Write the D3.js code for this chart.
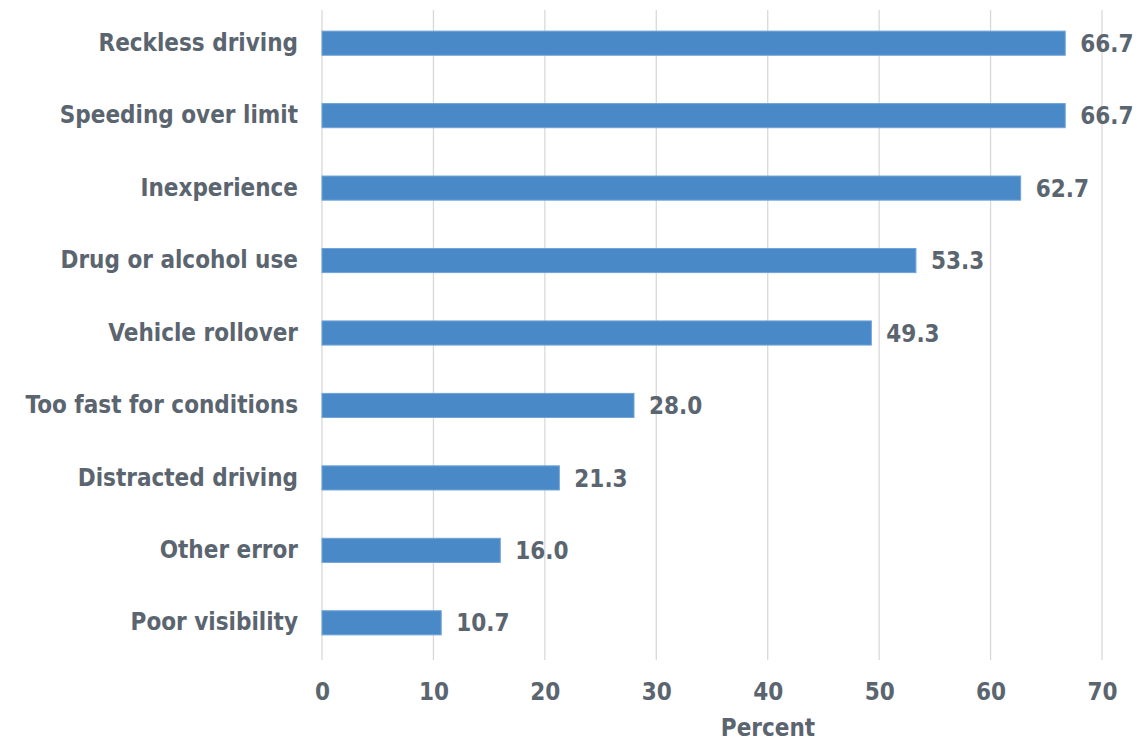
<!DOCTYPE html>
<html><head><meta charset="utf-8">
<script src="https://cdn.jsdelivr.net/npm/d3@7"></script>
<style>
html,body{margin:0;padding:0;background:#fff;}
text{font-family:"DejaVu Sans Condensed","DejaVu Sans",sans-serif;font-weight:bold;fill:#5b6570;}
</style></head>
<body>
<svg id="chart" width="1142" height="742"></svg>
<script>
const categories = ["Reckless driving","Speeding over limit","Inexperience","Drug or alcohol use","Vehicle rollover","Too fast for conditions","Distracted driving","Other error","Poor visibility"];
const values = [66.7,66.7,62.7,53.3,49.3,28.0,21.3,16.0,10.7];
const xTicks = [0,10,20,30,40,50,60,70];
const xTitle = "Percent";

const svg = d3.select("#chart");
const x = d3.scaleLinear().domain([0,70]).range([322,1102]);
const y = d3.scaleBand().domain(categories).range([7,659]).paddingInner(0.667).paddingOuter(0.333);

// gridlines
svg.append("g").selectAll("line").data(xTicks).join("line")
  .attr("x1",d=>x(d)).attr("x2",d=>x(d)).attr("y1",10).attr("y2",660)
  .attr("stroke","#d9d9d9").attr("stroke-width",1.3);

// bars
svg.append("g").selectAll("rect").data(values).join("rect")
  .attr("x",x(0)).attr("y",(d,i)=>y(categories[i]))
  .attr("width",d=>x(d)-x(0)).attr("height",y.bandwidth())
  .attr("fill","#4a89c8").attr("stroke","#6fa3d8").attr("stroke-width",1);

// value labels
svg.append("g").selectAll("text").data(values).join("text")
  .attr("x",d=>x(d)+15).attr("y",(d,i)=>y(categories[i])+y.bandwidth()/2)
  .attr("dy","0.36em").style("font-size","24px")
  .text(d=>d.toFixed(1));

// y axis labels
const yAxis = d3.axisLeft(y).tickSize(0).tickPadding(24);
const gy = svg.append("g").attr("transform",`translate(${x(0)},0)`).call(yAxis);
gy.select(".domain").remove();
gy.selectAll("text").style("font-size","24px").attr("fill",null);

// x axis
const xAxis = d3.axisBottom(x).tickValues(xTicks).tickSize(0).tickPadding(0);
const gx = svg.append("g").attr("transform","translate(0,683)").call(xAxis);
gx.select(".domain").remove();
gx.selectAll("text").style("font-size","24px").attr("dy","0.72em").attr("fill",null);
gx.attr("font-family",null);
gy.attr("font-family",null);

svg.append("text").attr("x",768).attr("y",736).attr("text-anchor","middle")
  .style("font-size","24px").text(xTitle);
</script>
</body></html>
